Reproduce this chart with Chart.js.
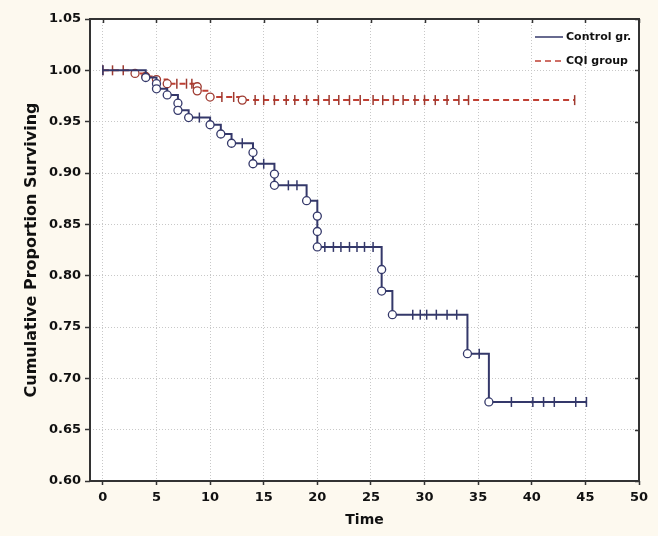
<!DOCTYPE html>
<html>
<head>
<meta charset="utf-8">
<script src="https://cdn.jsdelivr.net/npm/chart.js@4"></script>
<style>
  html, body { margin: 0; padding: 0; background: #fdf9ef; }
  #wrap { width: 658px; height: 536px; }
</style>
</head>
<body>
<div id="wrap"><canvas id="kmChart" width="658" height="536"></canvas></div>
<script>
// time axis ticks and proportion ticks
const xTicks = [0, 5, 10, 15, 20, 25, 30, 35, 40, 45, 50];
const yTicks = [0.60, 0.65, 0.70, 0.75, 0.80, 0.85, 0.90, 0.95, 1.00, 1.05];

// Control group: time, survival, censored flag (1 = censored "+", 0 = event "o")
const controlTime = [0, 4, 5, 5, 6, 7, 7, 8, 9, 10, 11, 12, 13, 14, 14, 15, 16, 16, 17.3, 18.1, 19, 20, 20, 20,
  20.7, 21.5, 22.2, 23, 23.7, 24.4, 25.2, 26, 26, 27, 28.9, 29.6, 30.2, 31.1, 32.1, 33, 34, 35.1, 36,
  38.1, 40.1, 41.1, 42.1, 44.1, 45.1];
const controlSurv = [1.000, 0.993, 0.987, 0.982, 0.976, 0.968, 0.961, 0.954, 0.954, 0.947, 0.938, 0.929, 0.929,
  0.920, 0.909, 0.909, 0.899, 0.888, 0.888, 0.888, 0.873, 0.858, 0.843, 0.828,
  0.828, 0.828, 0.828, 0.828, 0.828, 0.828, 0.828, 0.806, 0.785, 0.762, 0.762, 0.762, 0.762, 0.762, 0.762, 0.762,
  0.724, 0.724, 0.677, 0.677, 0.677, 0.677, 0.677, 0.677, 0.677];
const controlCens = [1, 0, 0, 0, 0, 0, 0, 0, 1, 0, 0, 0, 1, 0, 0, 1, 0, 0, 1, 1, 0, 0, 0, 0,
  1, 1, 1, 1, 1, 1, 1, 0, 0, 0, 1, 1, 1, 1, 1, 1, 0, 1, 0, 1, 1, 1, 1, 1, 1];

// CQI group
const cqiTime = [0, 0.9, 1.9, 3, 4, 5, 6, 6.9, 7.8, 8.3, 8.8, 8.8, 10, 11.1, 12.2, 13,
  14.2, 15, 16, 17.1, 17.9, 19, 20.1, 21.1, 22, 23, 24, 25.2, 26.1, 27.1, 28, 29.1, 30, 31, 32.1, 33.2, 34.1, 44];
const cqiSurv = [1.000, 1.000, 1.000, 0.997, 0.994, 0.991, 0.987, 0.987, 0.987, 0.987, 0.984, 0.980, 0.974, 0.974, 0.974, 0.971,
  0.971, 0.971, 0.971, 0.971, 0.971, 0.971, 0.971, 0.971, 0.971, 0.971, 0.971, 0.971, 0.971, 0.971, 0.971, 0.971, 0.971,
  0.971, 0.971, 0.971, 0.971, 0.971];
const cqiCens = [1, 1, 1, 0, 0, 0, 0, 1, 1, 1, 0, 0, 0, 1, 1, 0,
  1, 1, 1, 1, 1, 1, 1, 1, 1, 1, 1, 1, 1, 1, 1, 1, 1, 1, 1, 1, 1, 1];

const seriesNames = ["Control gr.", "CQI group"];
const blue = "#34386a";
const red = "#bf3f33";

function points(times, surv) {
  return times.map((t, i) => ({ x: t, y: surv[i] }));
}

function kmDataset(label, times, surv, cens, color, markColor, dash) {
  return {
    label,
    data: points(times, surv),
    borderColor: color,
    borderWidth: 2,
    borderDash: dash,
    stepped: true,
    fill: false,
    pointStyle: ctx => cens[ctx.dataIndex] ? "line" : "circle",
    pointRotation: ctx => cens[ctx.dataIndex] ? 90 : 0,
    pointRadius: ctx => cens[ctx.dataIndex] ? 5 : 4,
    pointBorderWidth: ctx => cens[ctx.dataIndex] ? 1.5 : 1.3,
    pointBackgroundColor: "#ffffff",
    pointBorderColor: markColor,
    pointHoverRadius: 4
  };
}

const framePlugin = {
  id: "frame",
  beforeDraw(chart) {
    const { ctx, chartArea: a } = chart;
    ctx.save();
    ctx.fillStyle = "#ffffff";
    ctx.fillRect(a.left, a.top, a.right - a.left, a.bottom - a.top);
    ctx.restore();
  },
  afterDraw(chart) {
    const { ctx, chartArea: a, scales } = chart;
    ctx.save();
    ctx.strokeStyle = "#333333";
    ctx.lineWidth = 2;
    ctx.strokeRect(a.left, a.top, a.right - a.left, a.bottom - a.top);
    // inner ticks on top and right borders
    ctx.lineWidth = 1.5;
    ctx.beginPath();
    xTicks.forEach(v => {
      const px = Math.round(scales.x.getPixelForValue(v)) + 0.5;
      ctx.moveTo(px, a.top); ctx.lineTo(px, a.top + 4);
    });
    yTicks.forEach(v => {
      const py = Math.round(scales.y.getPixelForValue(v)) + 0.5;
      ctx.moveTo(a.right, py); ctx.lineTo(a.right - 4, py);
    });
    ctx.stroke();

    // legend
    const lx0 = a.right - 104, lx1 = a.right - 76, tx = a.right - 73;
    const rows = [a.top + 18, a.top + 42];
    ctx.font = "bold 11px 'DejaVu Sans'";
    ctx.textBaseline = "middle";
    ctx.fillStyle = "#111111";
    chart.data.datasets.forEach((ds, i) => {
      ctx.strokeStyle = ds.borderColor;
      ctx.lineWidth = 1.5;
      ctx.setLineDash(ds.borderDash || []);
      ctx.beginPath();
      ctx.moveTo(lx0, rows[i]); ctx.lineTo(lx1, rows[i]);
      ctx.stroke();
      ctx.setLineDash([]);
      ctx.fillText(seriesNames[i], tx, rows[i]);
    });
    ctx.restore();
  }
};

const tickFont = { family: "'DejaVu Sans'", size: 13, weight: "bold" };

new Chart(document.getElementById("kmChart").getContext("2d"), {
  type: "line",
  data: {
    datasets: [
      kmDataset(seriesNames[0], controlTime, controlSurv, controlCens, blue, blue, []),
      kmDataset(seriesNames[1], cqiTime, cqiSurv, cqiCens, red, "#9e3a30", [6, 4])
    ]
  },
  options: {
    responsive: false,
    animation: false,
    layout: { padding: { top: 19, right: 19, left: 0, bottom: 0 } },
    plugins: {
      legend: { display: false },
      tooltip: { enabled: false }
    },
    scales: {
      x: {
        type: "linear",
        min: -1.2,
        max: 50,
        afterBuildTicks: s => { s.ticks = xTicks.map(v => ({ value: v })); },
        afterFit: s => { s.height = 55; },
        ticks: { color: "#111111", font: tickFont, padding: 5, maxRotation: 0 },
        grid: { color: "#c8c8c8", lineWidth: 1, tickLength: 4, tickColor: "#333333", tickWidth: 1.5, tickBorderDash: [] },
        border: { display: false, dash: [1, 2] },
        title: { display: true, text: "Time", color: "#111111", font: { family: "'DejaVu Sans'", size: 14, weight: "bold" }, padding: { top: 0, bottom: 7 } }
      },
      y: {
        min: 0.60,
        max: 1.05,
        afterBuildTicks: s => { s.ticks = yTicks.map(v => ({ value: v })); },
        afterFit: s => { s.width = 90; },
        ticks: { color: "#111111", font: tickFont, padding: 4, callback: v => v.toFixed(2) },
        grid: { color: "#c8c8c8", lineWidth: 1, tickLength: 5, tickColor: "#333333", tickWidth: 1.5, tickBorderDash: [] },
        border: { display: false, dash: [1, 2] },
        title: { display: true, text: "Cumulative Proportion Surviving", color: "#111111", font: { family: "'DejaVu Sans'", size: 16, weight: "bold" }, padding: { top: 22, bottom: 0 } }
      }
    }
  },
  plugins: [framePlugin]
});
</script>
</body>
</html>
